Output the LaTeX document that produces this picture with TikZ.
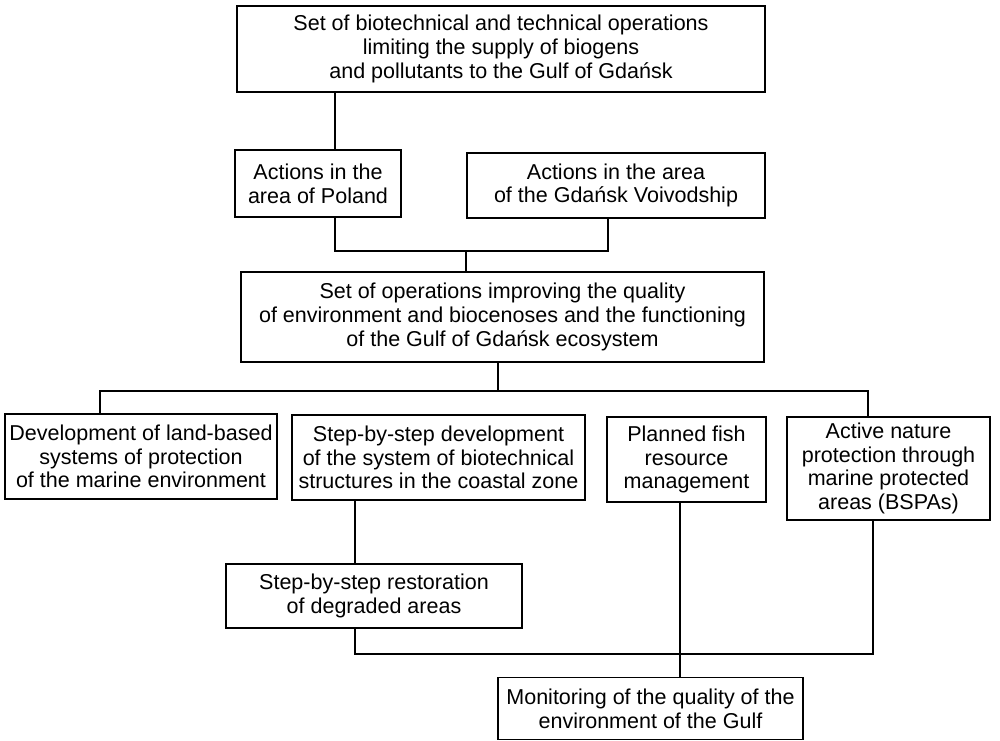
\documentclass[tikz,border=0pt]{standalone}
\usepackage{fontspec}
\setmainfont{Liberation Sans}
\usetikzlibrary{calc,positioning}

\begin{document}
\begin{tikzpicture}[x=0.025cm,y=-0.025cm,
	box/.style={draw,line width=1.3pt,align=center,inner sep=0pt,font=\fontsize{15.3}{16.8}\selectfont},
	link/.style={line width=0.8pt}]
	\useasboundingbox (0,0) rectangle (1000,741);

	\node[box,minimum width=13.2cm,minimum height=2.15cm] (ops) at (501,49) {Set of biotechnical and technical operations\\limiting the supply of biogens\\and pollutants to the Gulf of Gda\'nsk};
	\node[box,minimum width=4.15cm,minimum height=1.675cm] (poland) at (318,183.5) {Actions in the\\area of Poland};
	\node[box,minimum width=7.45cm,minimum height=1.625cm] (voiv) at (616,185.5) {Actions in the area\\of the Gda\'nsk Voivodship};
	\node[box,minimum width=13.075cm,minimum height=2.25cm] (improve) at (502.5,317) {Set of operations improving the quality\\of environment and biocenoses and the functioning\\of the Gulf of Gda\'nsk ecosystem};

	\node[box,minimum width=6.8cm,minimum height=2.125cm] (land) at (141,456.5) {Development of land-based\\systems of protection\\of the marine environment};
	\node[box,minimum width=7.325cm,minimum height=2.125cm] (struct) at (438.5,457.5) {Step-by-step development\\of the system of biotechnical\\structures in the coastal zone};
	\node[box,minimum width=3.975cm,minimum height=2.125cm] (fish) at (686.5,459.5) {Planned fish\\resource\\management};
	\node[box,minimum width=5.075cm,minimum height=2.575cm] (bspa) at (888.5,468.5) {Active nature\\protection through\\marine protected\\areas (BSPAs)};

	\node[box,minimum width=7.4cm,minimum height=1.6cm] (restore) at (374,596) {Step-by-step restoration\\of degraded areas};
	\node[box,minimum width=7.625cm,minimum height=1.55cm] (monitor) at (650.5,708.5) {Monitoring of the quality of the\\environment of the Gulf};

	\coordinate (pl) at (335,251);
	\coordinate (vr) at (608,251);
	\coordinate (mid) at (466,251);
	\coordinate (ml) at (100,391);
	\coordinate (mc) at (498,391);
	\coordinate (mr) at (868,391);
	\coordinate (rl) at (355,654);
	\coordinate (rr) at (873,654);
	\coordinate (fc) at (680,654);

	\draw[link] (ops.south -| pl) -- (poland.north -| pl);
	\draw[link] (poland.south -| pl) -- (pl) -- (vr) -- (voiv.south -| vr);
	\draw[link] (mid) -- (improve.north -| mid);
	\draw[link] (improve.south -| mc) -- (mc);
	\draw[link] (land.north -| ml) -- (ml) -- (mr) -- (bspa.north -| mr);
	\draw[link] (struct.south -| rl) -- (restore.north -| rl);
	\draw[link] (restore.south -| rl) -- (rl) -- (rr) -- (bspa.south -| rr);
	\draw[link] (fish.south -| fc) -- (monitor.north -| fc);
\end{tikzpicture}
\end{document}
